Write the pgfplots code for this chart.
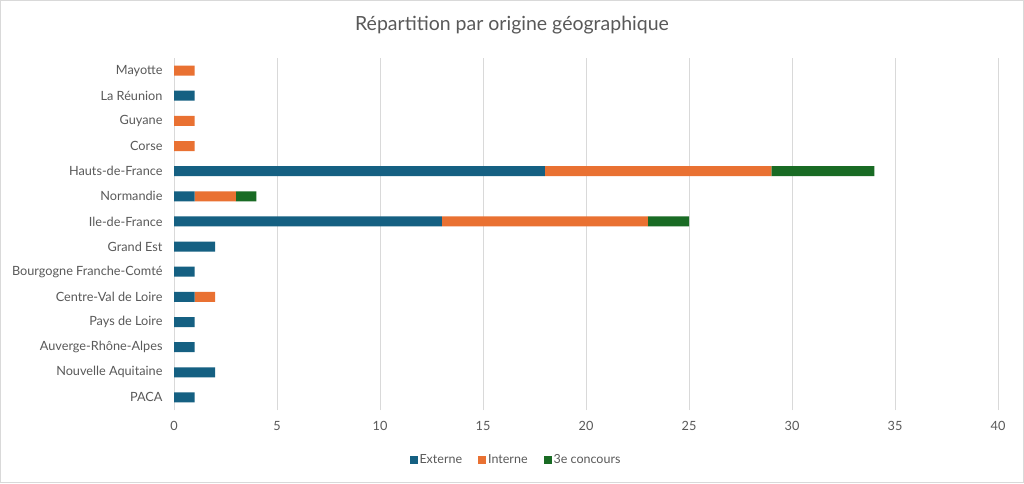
\documentclass[border=0pt]{standalone}
\usepackage{pgfplots}
\pgfplotsset{compat=1.18}
\usepackage{fontspec}
\setmainfont{Lato}
\definecolor{cE}{HTML}{156082}
\definecolor{cI}{HTML}{E97132}
\definecolor{cT}{HTML}{196B24}
\definecolor{txt}{HTML}{595959}
\definecolor{grd}{HTML}{D9D9D9}
\begin{document}
\begin{tikzpicture}[x=1pt,y=1pt]
\fill[white] (0,0) rectangle (1024,483);
\draw[grd, line width=0.8pt] (0.5,0.5) rectangle (1023.5,482.5);
\node[txt, font=\fontsize{19.5}{22}\selectfont] at (512,458) {Répartition par origine géographique};
\begin{axis}[
  at={(174pt,73pt)}, anchor=south west,
  scale only axis, width=824pt, height=352pt,
  xbar stacked, bar width=10pt,
  xmin=0, xmax=40, xtick distance=5,
  ymin=-0.5, ymax=13.5,
  ytick={0,...,13},
  yticklabels={PACA,Nouvelle Aquitaine,Auverge-Rhône-Alpes,Pays de Loire,Centre-Val de Loire,Bourgogne Franche-Comté,Grand Est,Ile-de-France,Normandie,Hauts-de-France,Corse,Guyane,La Réunion,Mayotte},
  axis x line*=bottom, axis y line*=left,
  x axis line style={draw=none},
  y axis line style={draw=grd, line width=0.8pt},
  xmajorgrids, grid style={draw=grd, line width=0.8pt},
  major tick length=0pt,
  tick label style={txt, font=\fontsize{12.7}{14}\selectfont},
  /pgf/number format/assume math mode=true,
  xticklabel style={yshift=-8pt},
  yticklabel style={xshift=-8pt},
  legend style={at={(0.415,-0.142)}, anchor=center, draw=none, fill=none,
    legend columns=-1, font=\fontsize{12.5}{14}\selectfont, text=txt,
    /tikz/every even column/.append style={column sep=14pt}},
  legend image code/.code={\fill[#1] (0pt,-4pt) rectangle (8pt,4pt);},
]
\addplot[fill=cE, draw=none] coordinates {(1,0) (2,1) (1,2) (1,3) (1,4) (1,5) (2,6) (13,7) (1,8) (18,9) (0,10) (0,11) (1,12) (0,13)};
\addplot[fill=cI, draw=none] coordinates {(0,0) (0,1) (0,2) (0,3) (1,4) (0,5) (0,6) (10,7) (2,8) (11,9) (1,10) (1,11) (0,12) (1,13)};
\addplot[fill=cT, draw=none] coordinates {(0,0) (0,1) (0,2) (0,3) (0,4) (0,5) (0,6) (2,7) (1,8) (5,9) (0,10) (0,11) (0,12) (0,13)};
\legend{Externe,Interne,3e concours}
\end{axis}
\end{tikzpicture}
\end{document}
